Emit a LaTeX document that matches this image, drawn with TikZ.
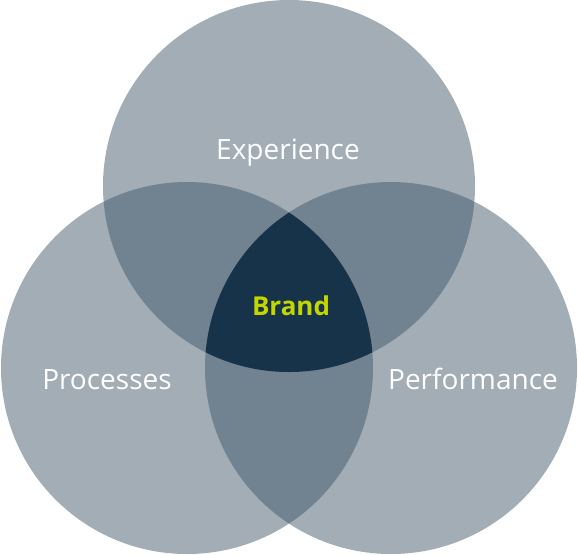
\documentclass[tikz,border=0pt]{standalone}
\usepackage{fontspec}
\setmainfont{Open Sans}
\usepackage{tikz}
\definecolor{ringgray}{HTML}{A3ADB6}
\definecolor{lapgray}{HTML}{718391}
\definecolor{coreblue}{HTML}{17334A}
\definecolor{brandgreen}{HTML}{C4D600}

\begin{document}
\begin{tikzpicture}[x=0.5pt,y=-0.5pt,
  ring label/.style={text=white,anchor=base,inner sep=0pt,font=\fontsize{14}{16}\selectfont},
  core label/.style={text=brandgreen,anchor=base,inner sep=0pt,font=\fontsize{13}{15}\selectfont\bfseries}]
  \useasboundingbox (0,0) rectangle (578,554);
  \def\rad{186}

  \coordinate (top) at (289,186);
  \coordinate (left) at (187,368);
  \coordinate (right) at (391,368);

  % the three rings
  \fill[ringgray] (top) circle (\rad);
  \fill[ringgray] (left) circle (\rad);
  \fill[ringgray] (right) circle (\rad);

  % pairwise overlaps
  \begin{scope}
    \clip (top) circle (\rad);
    \fill[lapgray] (left) circle (\rad);
    \fill[lapgray] (right) circle (\rad);
  \end{scope}
  \begin{scope}
    \clip (left) circle (\rad);
    \fill[lapgray] (right) circle (\rad);
  \end{scope}

  % the core
  \begin{scope}
    \clip (top) circle (\rad);
    \clip (left) circle (\rad);
    \fill[coreblue] (right) circle (\rad);
  \end{scope}

  \node[ring label] (experience) at (288,159) {Experience};
  \node[ring label] (processes) at (107,389) {Processes};
  \node[ring label] (performance) at (473,389) {Performance};
  \node[core label] (brand) at (291,315) {Brand};
\end{tikzpicture}
\end{document}
